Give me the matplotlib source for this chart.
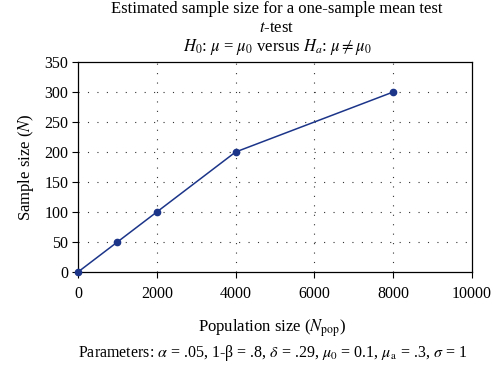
import matplotlib
matplotlib.use("Agg")
import matplotlib.pyplot as plt

pop_size = [0, 1000, 2000, 4000, 8000]
sample_size = [0, 50, 100, 200, 300]
x_ticks = [0, 2000, 4000, 6000, 8000, 10000]
y_ticks = [0, 50, 100, 150, 200, 250, 300, 350]

plt.rcParams['font.family'] = ['Liberation Serif', 'DejaVu Serif']
plt.rcParams['mathtext.fontset'] = 'stix'

fig = plt.figure(figsize=(4.92, 3.72), dpi=100)
ax = fig.add_axes([78/492, 1 - 272/372, (472-78)/492, (272-62)/372])

line_color = '#1c3589'
ax.plot(pop_size, sample_size, color=line_color, lw=1.1, marker='o', ms=4.5, zorder=3, clip_on=False)

ax.set_xlim(0, 10000)
ax.set_ylim(0, 350)
ax.set_xticks(x_ticks)
ax.set_yticks(y_ticks)
ax.tick_params(axis='x', direction='out', length=4, width=0.8, labelsize=11.5, colors='black', pad=6)
ax.tick_params(axis='y', direction='out', length=4, width=0.8, labelsize=11.5, colors='black', pad=3)
for s in ax.spines.values():
    s.set_linewidth(0.9)

dot = (0, (1, 7.5))
for y in y_ticks[1:-1]:
    ax.axhline(y, color='#333333', lw=0.8, ls=dot, zorder=1)
for x in x_ticks[1:-1]:
    ax.axvline(x, color='#333333', lw=0.8, ls=dot, zorder=1)

ax.set_ylabel('Sample size ($N$)', fontsize=12, labelpad=6)

cx = 277/492
fig.text(cx, 1 - 9/372, 'Estimated sample size for a one-sample mean test', ha='center', va='center', fontsize=12)
fig.text(cx, 1 - 28/372, '$t$-test', ha='center', va='center', fontsize=12)
fig.text(cx, 1 - 47/372, r'$H_0$: $\mu$ = $\mu_0$ versus $H_a$: $\mu \neq \mu_0$', ha='center', va='center', fontsize=12)

fig.text(cx - 0.01, 1 - 328/372, r'Population size ($N_{\mathrm{pop}}$)', ha='center', va='center', fontsize=12)
fig.text(cx - 0.01, 1 - 353/372, r'Parameters: $\alpha$ = .05, 1-β = .8, $\delta$ = .29, $\mu_0$ = 0.1, $\mu_{\mathrm{a}}$ = .3, $\sigma$ = 1', ha='center', va='center', fontsize=11.5)

fig.savefig('out.png', dpi=100)
